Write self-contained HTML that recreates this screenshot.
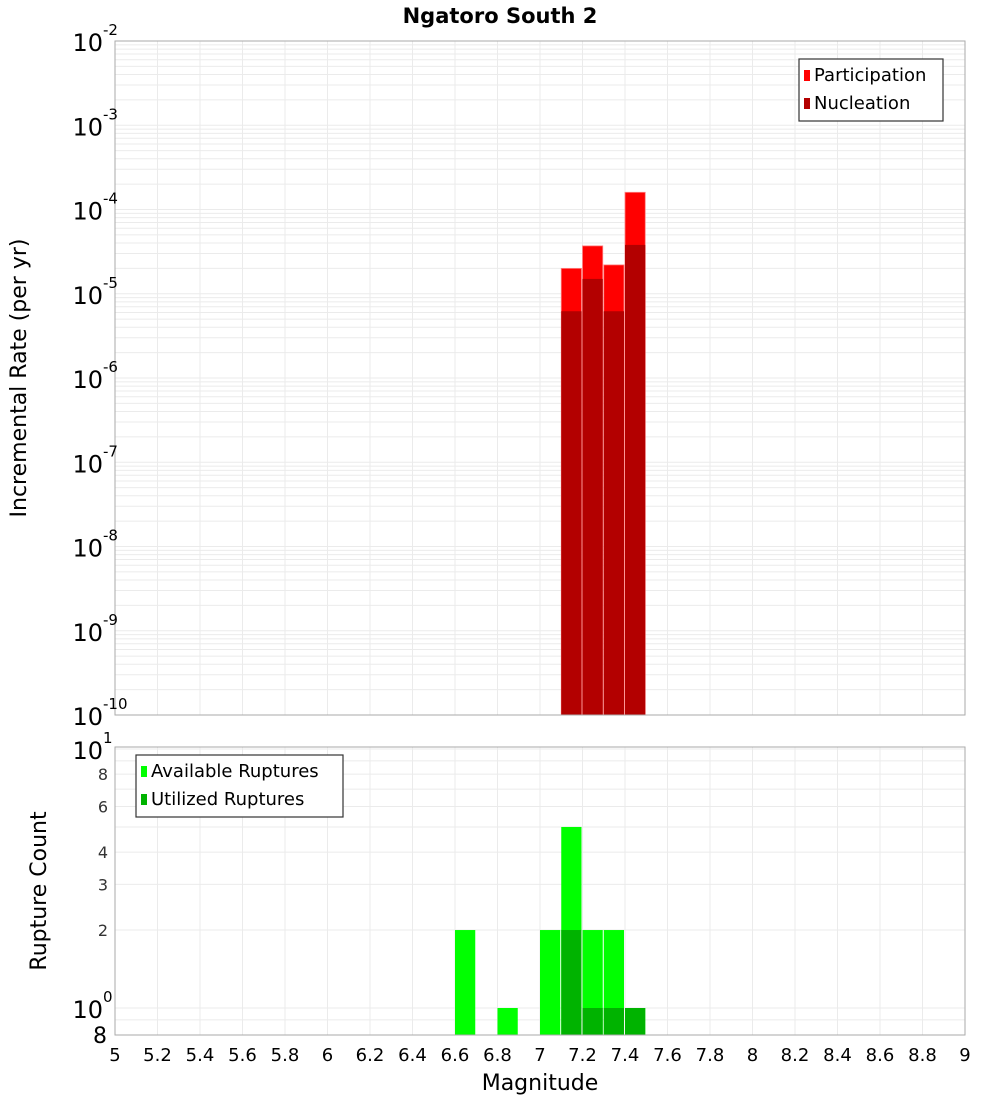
<!DOCTYPE html>
<html><head><meta charset="utf-8">
<style>
body{margin:0;background:#fff;}
svg text{font-family:"DejaVu Sans","Liberation Sans",sans-serif;}
</style></head>
<body>
<svg id="c" width="1000" height="1100" xmlns="http://www.w3.org/2000/svg">
<text x="500" y="23" text-anchor="middle" font-size="21" font-weight="bold">Ngatoro South 2</text>
<text transform="translate(26,378) rotate(-90)" text-anchor="middle" font-size="22">Incremental Rate (per yr)</text>
<text transform="translate(46,891) rotate(-90)" text-anchor="middle" font-size="22">Rupture Count</text>
<text x="540" y="1090" text-anchor="middle" font-size="22">Magnitude</text>
<g id="g"></g>
</svg>
<script>
const bins = [7.1, 7.2, 7.3, 7.4];
const participation = [2.0e-5, 3.7e-5, 2.2e-5, 1.6e-4];
const nucleation = [6.2e-6, 1.5e-5, 6.2e-6, 3.8e-5];
const countBins = [6.6, 6.8, 7.0, 7.1, 7.2, 7.3, 7.4];
const available = [2, 1, 2, 5, 2, 2, 1];
const utilBins = [7.1, 7.2, 7.3, 7.4];
const utilized = [2, 1, 1, 1];
const xTicks = [5,5.2,5.4,5.6,5.8,6,6.2,6.4,6.6,6.8,7,7.2,7.4,7.6,7.8,8,8.2,8.4,8.6,8.8,9];
const topExps = [-10,-9,-8,-7,-6,-5,-4,-3,-2];
const botTicks = [2,3,4,6,8];

const NS='http://www.w3.org/2000/svg';
const g=document.getElementById('g');
function mk(t,a,parent){const e=document.createElementNS(NS,t);for(const k in a)e.setAttribute(k,a[k]);(parent||g).appendChild(e);return e;}
const X0=115,X1=965;
const x=v=>X0+(v-5)/4*(X1-X0);
const T0=41,T1=715;
const yTop=v=>T1-(Math.log10(v)+10)/8*(T1-T0);
const B0=747,B1=1035;
const yB=v=>1008-Math.log10(v)*259;

// frames bg
mk('rect',{x:X0,y:T0,width:X1-X0,height:T1-T0,fill:'#fff'});
mk('rect',{x:X0,y:B0,width:X1-X0,height:B1-B0,fill:'#fff'});
// grids top
for(let e=-10;e<-2;e++)for(let m=1;m<10;m++){const yy=yTop(m*Math.pow(10,e));const l=mk('line',{x1:X0,x2:X1,y1:yy,y2:yy,stroke:'#ebebeb','stroke-width':1});}
for(let m=1;m<=10;m++){const yy=yB(m);mk('line',{x1:X0,x2:X1,y1:yy,y2:yy,stroke:'#ebebeb'});}
mk('line',{x1:X0,x2:X1,y1:yB(0.9),y2:yB(0.9),stroke:'#ebebeb'});
xTicks.forEach(v=>{mk('line',{x1:x(v),x2:x(v),y1:T0,y2:T1,stroke:'#ebebeb'});mk('line',{x1:x(v),x2:x(v),y1:B0,y2:B1,stroke:'#ebebeb'});});

// top bars
const bw=(x(5.1)-x(5));
bins.forEach((b,i)=>{
 const r=mk('rect',{x:x(b),y:yTop(participation[i]),width:bw-1,height:T1-yTop(participation[i]),fill:'#ff0000',stroke:'#ff8080','stroke-width':0.8});
 
 const n=mk('rect',{x:x(b),y:yTop(nucleation[i]),width:bw-1,height:T1-yTop(nucleation[i]),fill:'#b30000'});
 
});
// bottom bars
countBins.forEach((b,i)=>{
 const r=mk('rect',{x:x(b),y:yB(available[i]),width:bw-1,height:B1-yB(available[i]),fill:'#00ff00'});
 
});
utilBins.forEach((b,i)=>{
 const r=mk('rect',{x:x(b),y:yB(utilized[i]),width:bw-1,height:B1-yB(utilized[i]),fill:'#00b300'});
 
});
// frames
mk('rect',{x:X0,y:T0,width:X1-X0,height:T1-T0,fill:'none',stroke:'#aaa'});
mk('rect',{x:X0,y:B0,width:X1-X0,height:B1-B0,fill:'none',stroke:'#aaa'});

// top y ticks
topExps.forEach(e=>{
 const t=mk('text',{x:103,y:yTop(Math.pow(10,e))+10,'text-anchor':'end','font-size':24});
 
 t.textContent='10';
 const s=mk('text',{x:103,y:yTop(Math.pow(10,e))-6,'font-size':15});s.textContent=String(e);
});
// bottom y ticks
[[10,'1'],[1,'0']].forEach(([v,e])=>{
 const t=mk('text',{x:103,y:yB(v)+10,'text-anchor':'end','font-size':24});t.textContent='10';
 
 const s=mk('text',{x:103,y:yB(v)-6,'font-size':15});s.textContent=e;
});
botTicks.forEach(v=>{
 const t=mk('text',{x:108,y:yB(v)+6,'text-anchor':'end','font-size':16,fill:'#333'});t.textContent=String(v);
 
});
{const t=mk('text',{x:107,y:1043,'text-anchor':'end','font-size':22});t.textContent='8';}
// x ticks
xTicks.forEach(v=>{
 const t=mk('text',{x:x(v),y:1061,'text-anchor':'middle','font-size':18});t.textContent=String(v);
 
});
// legends
function legend(bx,by,w,items,name){
 const lg=mk('g',{});
 mk('rect',{x:bx,y:by,width:w,height:62,fill:'#fff',stroke:'#333','stroke-width':1.2},lg);
 items.forEach(([c,l],i)=>{
  mk('rect',{x:bx+5,y:by+11+i*28,width:6,height:11,fill:c},lg);
  const t=mk('text',{x:bx+15,y:by+22+i*28,'font-size':18},lg);t.textContent=l;
 });
}
legend(799,59,144,[['#ff0000','Participation'],['#b30000','Nucleation']],'top-legend');
legend(136,755,207,[['#00ff00','Available Ruptures'],['#00b300','Utilized Ruptures']],'bottom-legend');
</script>
</body></html>
